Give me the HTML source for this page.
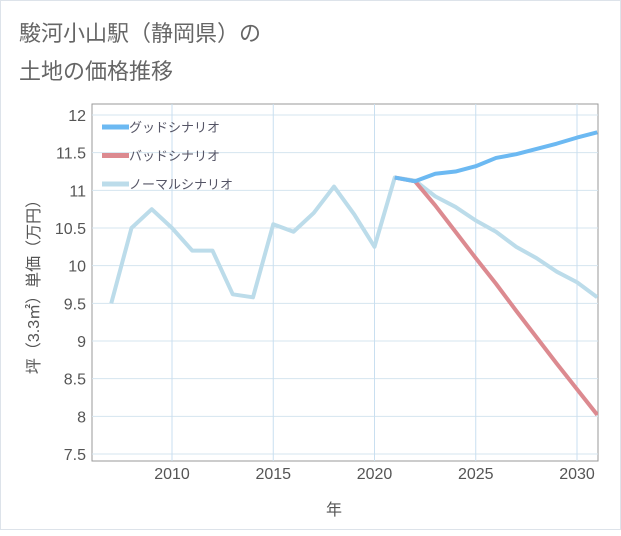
<!DOCTYPE html>
<html><head><meta charset="utf-8"><style>
body{margin:0;background:#fff}
#c{width:621px;height:530px;position:relative;background:#fff;border:1px solid #dde3ea;box-sizing:border-box;font-family:"Liberation Sans","Noto Sans CJK JP",sans-serif}
</style></head><body>
<div id="c">
<svg id="s" width="621" height="530"></svg>
</div>
<script>
const years=[2007,2008,2009,2010,2011,2012,2013,2014,2015,2016,2017,2018,2019,2020,2021,2022,2023,2024,2025,2026,2027,2028,2029,2030,2031];
const normal=[9.5,10.5,10.75,10.5,10.2,10.2,9.62,9.58,10.55,10.45,10.7,11.05,10.68,10.25,11.17,11.13,10.92,10.78,10.6,10.45,10.25,10.1,9.92,9.78,9.58];
const fyears=[2021,2022,2023,2024,2025,2026,2027,2028,2029,2030,2031];
const good=[11.17,11.12,11.22,11.25,11.32,11.43,11.48,11.55,11.62,11.7,11.77];
const bad=[11.17,11.12,10.8,10.45,10.1,10.75-0.99,9.4,9.05,8.7,8.36,8.02];
const yTicks=[7.5,8,8.5,9,9.5,10,10.5,11,11.5,12];
const yTickLabels=["7.5","8","8.5","9","9.5","10","10.5","11","11.5","12"];
const xTicks=[2010,2015,2020,2025,2030];
const xTickLabels=["2010","2015","2020","2025","2030"];
const legendNames=["グッドシナリオ","バッドシナリオ","ノーマルシナリオ"];
const NS="http://www.w3.org/2000/svg",s=document.getElementById('s');
const L=91,R=597,T=103,B=460;
const xs=v=>171+(v-2010)*20.25, ys=v=>453-(v-7.5)*75.33;
function el(t,a,txt){const e=document.createElementNS(NS,t);for(const k in a)e.setAttribute(k,a[k]);if(txt!=null)e.textContent=txt;s.appendChild(e);return e;}
let t=el('text',{x:18,y:40,'font-size':22,fill:'#666'},'駿河小山駅（静岡県）の');

t=el('text',{x:18,y:78,'font-size':22,fill:'#666'},'土地の価格推移');

let r=el('rect',{x:L,y:T,width:R-L,height:B-T,fill:'#fff',stroke:'#999','stroke-width':1});

yTicks.forEach((v,i)=>{let g=el('line',{x1:L,x2:R,y1:ys(v),y2:ys(v),stroke:'#d5e4ef'});

let tx=el('text',{x:L-6,y:ys(v)+6,'text-anchor':'end','font-size':16,fill:'#555'},yTickLabels[i]);
});
xTicks.forEach((v,i)=>{let g=el('line',{x1:xs(v),x2:xs(v),y1:T,y2:B,stroke:'#c9dff0'});

let tx=el('text',{x:xs(v),y:478,'text-anchor':'middle','font-size':16,fill:'#555'},xTickLabels[i]);
});
t=el('text',{x:333,y:514,'text-anchor':'middle','font-size':16,fill:'#555'},'年');

t=el('text',{x:0,y:0,'text-anchor':'middle','font-size':16,fill:'#555',transform:'translate(38,282) rotate(-90)'},'坪（3.3㎡）単価（万円）');

const cp=el('clipPath',{id:'cp'});const cr=document.createElementNS(NS,'rect');
cr.setAttribute('x',L);cr.setAttribute('y',T);cr.setAttribute('width',R-L);cr.setAttribute('height',B-T);cp.appendChild(cr);
function line(xv,yv,c,name){const p=el('polyline',{points:xv.map((x,i)=>xs(x)+','+ys(yv[i])).join(' '),fill:'none',stroke:c,'stroke-width':4,'stroke-linejoin':'round','clip-path':'url(#cp)'});
}
line(years,normal,'#bcdcea','normal-scenario-line');
line(fyears,bad,'#dc8a90','bad-scenario-line');
line(fyears,good,'#6cb9f2','good-scenario-line');
const lc=['#6cb9f2','#dc8a90','#bcdcea'];
legendNames.forEach((n,i)=>{const y=126+i*28.5;
let l=el('line',{x1:101,x2:128,y1:y,y2:y,stroke:lc[i],'stroke-width':5});

let tx=el('text',{x:128,y:y+5,'font-size':13,fill:'#556'},n);
});
</script>
</body></html>
